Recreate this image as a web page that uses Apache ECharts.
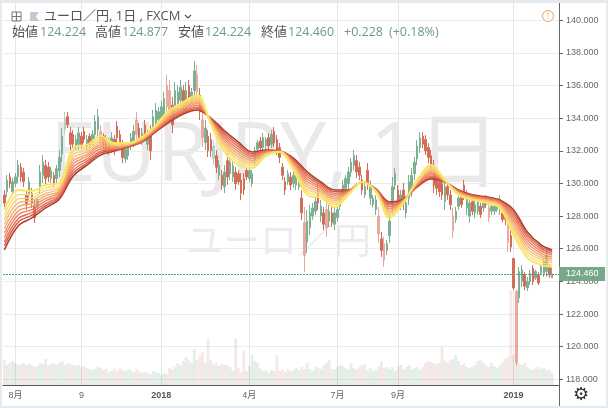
<!DOCTYPE html>
<html><head><meta charset="utf-8">
<style>html,body{margin:0;padding:0;background:#fff}#c{width:608px;height:408px}</style>
<script src="https://cdn.jsdelivr.net/npm/echarts@6/dist/echarts.min.js"></script>
</head><body><div id="c"></div>
<script>
const tickLabels = {4:'8月',28:'9',57:'2018',89:'4月',121:'7月',143:'9月',185:'2019'};
const barSlots = 202;
const yTicks = [118,120,122,124,126,128,130,132,134,136,138,140];
const lastPrice = 124.46;

const opens = [
129.3,129.5,130.4,129.5,130.0,130.4,131.0,130.7,129.3,129.3,
129.4,128.6,128.6,129.8,130.5,131.1,131.0,130.3,130.5,130.3,
130.8,131.8,133.3,134.1,133.1,133.0,132.3,132.4,132.9,133.2,
132.3,132.9,132.6,133.0,133.3,133.2,132.9,132.7,132.0,132.2,
132.7,133.5,133.0,132.3,131.5,131.7,132.3,132.6,133.9,133.4,
132.6,133.6,132.4,133.0,133.4,133.7,133.9,134.0,134.3,136.0,
135.7,134.8,134.6,134.8,135.1,135.7,134.8,136.0,135.1,135.7,
136.7,135.4,133.9,132.5,132.9,132.7,131.5,131.7,130.5,130.5,
129.8,131.4,130.6,130.4,130.7,130.6,130.2,130.3,130.8,130.3,
130.0,131.4,132.1,132.6,132.2,132.3,132.8,132.4,133.2,132.7,
132.2,131.0,130.1,130.1,130.4,130.0,129.9,129.8,129.1,127.6,
126.4,127.3,128.0,128.3,129.6,128.0,128.2,128.4,127.7,128.2,
127.5,127.9,128.6,129.4,129.7,130.0,130.7,131.1,131.4,131.0,
130.2,129.3,130.8,129.1,128.7,128.4,128.0,126.6,126.3,125.9,
126.8,128.7,129.9,129.6,128.7,129.6,128.2,129.1,129.6,130.6,
131.5,132.2,132.9,132.7,132.2,131.7,130.9,130.4,130.1,130.0,
128.9,129.8,129.3,128.0,127.8,128.6,129.2,129.9,128.5,128.0,
128.9,128.2,128.3,128.6,128.5,129.1,128.5,128.3,128.3,128.4,
128.4,128.2,128.4,127.6,126.8,125.4,123.4,123.0,124.0,124.4,
123.6,124.0,124.8,124.2,124.4,124.5,124.5,124.6,124.9,124.224];
const closes = [
128.8,130.2,130.0,130.1,130.4,131.1,130.4,130.1,128.7,130.1,
128.8,127.9,129.0,130.7,131.3,130.3,130.4,130.8,130.0,130.9,
131.6,132.9,134.0,133.6,132.4,132.4,132.7,133.1,132.4,132.7,
132.7,132.4,133.0,133.8,134.1,132.5,132.4,132.2,132.5,132.8,
132.0,132.8,132.4,131.6,132.1,132.2,132.8,133.2,133.0,132.8,
133.1,133.0,133.0,132.0,134.1,134.5,134.4,134.7,135.2,134.7,
134.4,133.6,135.7,135.6,135.9,134.9,135.7,135.3,135.6,136.9,
135.6,134.4,132.8,133.4,132.0,132.0,132.3,131.0,131.1,129.9,
130.7,130.4,131.3,131.1,130.0,130.1,129.4,129.6,130.4,130.8,
130.6,132.0,132.5,132.2,132.8,132.7,132.3,133.0,132.5,132.0,
131.6,130.5,129.6,130.6,129.9,130.5,130.4,130.3,128.2,125.6,
127.7,128.2,128.5,128.9,128.8,128.6,127.5,127.3,128.3,127.6,
128.2,128.4,129.1,129.9,130.3,130.7,131.3,131.7,130.7,130.5,
129.6,129.8,130.0,129.8,129.1,129.0,126.9,125.9,125.3,126.3,
127.7,129.8,130.6,128.9,129.3,128.8,128.8,130.1,130.5,131.3,
132.3,132.8,132.4,132.0,131.6,131.0,129.9,129.7,129.5,129.3,
129.8,129.3,128.7,127.1,128.3,129.1,128.7,129.3,129.2,128.8,
128.3,128.7,128.9,128.1,128.9,128.7,127.9,128.6,128.6,128.8,
129.0,127.8,127.8,126.4,126.1,123.6,119.0,124.6,124.7,123.7,
124.0,124.5,124.0,124.6,123.9,124.9,125.2,125.6,124.4,124.46];
const lows = [
128.56,129.17,129.72,129.29,129.78,130.03,130.09,129.78,128.37,128.99,
128.50,127.58,128.37,129.41,130.03,129.91,130.09,130.03,129.78,130.03,
130.40,131.31,132.97,133.40,132.05,132.05,132.05,132.05,132.17,132.48,
132.05,132.23,132.36,132.66,132.85,132.17,132.17,131.93,131.74,131.87,
131.74,132.48,132.05,131.25,131.25,131.44,132.05,132.23,132.48,132.48,
132.36,132.66,132.05,131.44,132.97,133.27,133.58,133.58,133.89,134.01,
133.70,133.09,134.07,134.38,134.68,134.50,134.32,134.93,134.87,135.11,
135.11,133.89,132.23,132.05,131.62,131.62,131.13,130.64,130.21,129.60,
129.41,129.91,130.21,130.09,129.60,129.91,128.99,129.29,130.21,130.09,
129.78,131.13,131.87,131.93,131.87,132.05,132.05,132.17,132.23,131.74,
131.25,130.21,129.29,129.91,129.60,129.72,129.60,129.60,127.76,124.57,
125.74,126.84,127.76,128.07,128.37,127.64,127.15,126.72,127.33,127.33,
127.15,127.64,128.37,129.11,129.48,129.60,130.40,130.82,130.33,130.21,
129.29,129.11,129.60,128.68,128.56,128.07,126.35,125.49,124.88,125.62,
126.35,128.07,129.60,128.56,128.37,128.37,127.88,128.68,129.17,130.21,
131.13,131.87,132.17,131.74,131.25,130.64,129.41,129.29,129.17,128.99,
128.37,128.99,128.37,126.66,127.58,128.37,128.50,128.99,128.07,127.58,
128.07,127.88,128.07,127.88,128.25,128.50,127.64,128.07,128.07,128.25,
128.07,127.64,127.45,125.80,125.80,123.47,118.82,122.68,123.66,123.47,
123.41,123.78,123.78,124.08,123.78,124.39,124.27,124.27,124.21,124.224];
const highs = [
129.60,130.52,130.64,130.33,130.64,131.44,131.25,130.95,129.60,130.40,
129.72,128.99,129.17,131.13,131.74,131.44,131.31,131.01,130.70,131.13,
132.05,133.40,134.38,134.38,133.46,133.27,132.97,133.46,133.15,133.46,
132.97,133.09,133.27,134.19,134.56,133.58,133.09,132.97,132.78,133.15,
132.97,133.83,133.27,132.66,132.36,132.48,133.09,133.58,134.38,133.70,
133.40,133.89,133.27,133.58,134.50,134.93,134.68,135.11,135.60,136.64,
136.34,135.30,136.22,136.03,136.34,136.03,136.22,136.34,135.85,137.50,
137.26,135.85,134.50,133.89,133.27,133.09,132.66,132.05,131.44,130.82,
131.13,131.87,131.62,131.44,131.01,130.82,130.64,130.64,131.01,131.01,
130.82,132.23,132.66,132.85,133.09,132.85,133.09,133.27,133.46,132.97,
132.48,131.25,130.40,130.82,130.70,130.82,130.70,130.52,129.60,128.56,
128.37,128.68,128.80,129.17,130.03,128.99,128.56,128.99,128.68,128.56,
128.56,128.68,129.29,130.21,130.52,131.01,131.56,132.05,131.74,131.31,
130.52,130.03,131.25,130.21,129.29,129.29,128.56,127.03,126.72,126.54,
128.19,130.40,130.95,129.91,129.60,130.03,129.17,130.52,130.95,131.62,
132.66,133.15,133.15,132.97,132.48,132.05,131.44,130.82,130.40,130.33,
130.33,130.03,129.60,128.50,128.56,129.29,129.48,130.21,129.60,129.17,
129.17,128.99,129.17,128.80,129.11,129.29,128.80,128.80,128.80,128.99,
129.29,128.37,128.68,128.19,127.15,125.43,123.47,124.88,125.00,124.57,
124.27,124.70,125.00,124.70,124.57,125.00,125.43,125.92,125.00,124.877];
const volumes = [
25,20,22,24,22,20,21,22,20,21,
20,18,19,22,21,26,20,21,22,20,
22,24,20,22,21,20,19,20,18,19,
17,16,15,16,18,17,15,16,13,14,
16,14,17,15,14,16,15,13,16,14,
12,13,12,11,14,13,12,10,12,11,
17,16,18,22,20,24,28,25,22,36,
25,30,33,22,46,25,20,22,19,21,
20,20,18,14,46,17,13,35,14,19,
30,24,22,17,14,15,12,15,14,30,
14,15,13,16,14,15,17,15,18,16,
22,16,14,18,17,16,20,22,25,16,
16,18,20,19,17,16,22,17,16,18,
20,21,15,17,14,15,19,24,17,18,
16,18,14,19,20,16,18,20,16,17,
18,15,18,22,24,23,22,21,22,38,
24,22,25,26,30,24,20,22,18,17,
18,20,24,25,22,20,18,22,19,17,
20,23,26,28,95,30,22,22,20,22,
18,16,15,17,18,16,17,15,15,12];
const paleBars = [22,35,48,59,60,70,72,76,109,117,136,138,163,176,183,186];

const ribbonAt = [0,5,10,15,20,25,30,35,40,45,50,55,60,65,70,75,80,85,90,95,100,105,110,115,120,125,130,135,140,145,150,155,160,165,170,175,180,185,190,195,199];
const ribbon1 = [128.38,129.60,129.54,129.91,130.03,132.18,132.36,132.91,132.48,132.48,132.85,133.59,134.50,134.99,135.42,133.65,131.93,131.13,130.95,131.69,131.93,130.83,129.30,129.12,128.56,129.30,130.09,129.48,127.89,128.81,130.22,131.13,130.22,129.30,128.99,128.81,128.50,126.85,125.44,125.01,124.89];
const ribbon2 = [128.06,129.31,129.33,129.73,129.90,131.96,132.20,132.76,132.42,132.45,132.81,133.53,134.41,134.90,135.30,133.70,132.10,131.31,131.08,131.74,131.94,130.92,129.48,129.25,128.70,129.34,130.09,129.50,128.02,128.84,130.16,131.02,130.20,129.34,129.03,128.86,128.56,127.05,125.65,125.17,125.03];
const ribbon3 = [127.77,129.05,129.13,129.56,129.79,131.75,132.05,132.62,132.36,132.42,132.77,133.48,134.32,134.81,135.19,133.74,132.25,131.48,131.20,131.78,131.95,131.01,129.65,129.36,128.82,129.38,130.09,129.53,128.14,128.87,130.11,130.92,130.19,129.38,129.07,128.90,128.62,127.23,125.84,125.32,125.15];
const ribbon4 = [127.50,128.81,128.95,129.40,129.68,131.56,131.92,132.49,132.30,132.39,132.74,133.44,134.24,134.73,135.09,133.78,132.39,131.64,131.30,131.82,131.95,131.09,129.81,129.47,128.93,129.41,130.09,129.54,128.24,128.90,130.07,130.82,130.17,129.41,129.10,128.94,128.68,127.40,126.01,125.45,125.26];
const ribbon5 = [127.23,128.57,128.76,129.25,129.57,131.37,131.78,132.36,132.25,132.37,132.70,133.39,134.16,134.65,134.99,133.82,132.54,131.79,131.41,131.86,131.96,131.17,129.96,129.58,129.05,129.44,130.09,129.56,128.35,128.92,130.02,130.73,130.16,129.44,129.14,128.98,128.73,127.57,126.19,125.58,125.38];
const ribbon6 = [126.96,128.32,128.58,129.09,129.46,131.18,131.65,132.24,132.20,132.34,132.67,133.34,134.08,134.57,134.89,133.86,132.68,131.95,131.52,131.90,131.96,131.25,130.12,129.68,129.16,129.47,130.09,129.58,128.46,128.95,129.97,130.64,130.14,129.47,129.17,129.02,128.78,127.74,126.36,125.72,125.49];
const ribbon7 = [126.69,128.08,128.40,128.94,129.35,130.99,131.51,132.11,132.14,132.31,132.64,133.29,134.00,134.49,134.79,133.90,132.82,132.10,131.63,131.94,131.97,131.33,130.27,129.79,129.28,129.51,130.09,129.60,128.57,128.98,129.92,130.54,130.13,129.51,129.20,129.07,128.84,127.91,126.54,125.85,125.61];
const ribbon8 = [126.42,127.84,128.22,128.78,129.25,130.80,131.38,131.98,132.09,132.29,132.60,133.25,133.92,134.41,134.68,133.94,132.96,132.26,131.73,131.98,131.98,131.41,130.43,129.90,129.39,129.54,130.09,129.62,128.67,129.00,129.88,130.45,130.12,129.54,129.24,129.11,128.89,128.07,126.71,125.99,125.72];
const ribbon9 = [126.18,127.62,128.06,128.64,129.15,130.63,131.25,131.87,132.04,132.26,132.57,133.20,133.84,134.33,134.59,133.97,133.09,132.40,131.83,132.01,131.98,131.49,130.57,130.00,129.50,129.57,130.09,129.64,128.77,129.03,129.83,130.36,130.10,129.57,129.27,129.14,128.94,128.23,126.87,126.11,125.83];
const ribbon10 = [125.93,127.40,127.89,128.50,129.05,130.46,131.13,131.75,131.99,132.24,132.54,133.16,133.77,134.26,134.50,134.01,133.22,132.54,131.93,132.05,131.99,131.56,130.71,130.09,129.60,129.60,130.09,129.66,128.87,129.05,129.79,130.28,130.09,129.60,129.30,129.18,128.99,128.38,127.03,126.23,125.93];
const ribbons = [ribbon10,ribbon9,ribbon8,ribbon7,ribbon6,ribbon5,ribbon4,ribbon3,ribbon2,ribbon1];
const ribbonColors = ['#ae3f2c','#d65441','#e26a52','#ea7d5c','#ef9165','#f4a66c','#f7b972','#f9cd78','#fbdc72','#f8e75e'];

const UP='#7cb093', DOWN='#d46c58', UP_PALE='#b4d2c1', DOWN_PALE='#e9a99d';
const FONT="'Open Sans','Noto Sans CJK JP',sans-serif";
const TEXT='#555', GREEN='#6b9f80';

const categories = Array.from({length:barSlots},(_,i)=>tickLabels[i]||String(i));
const isTick = i => tickLabels[i]!==undefined;
const candleData = opens.map((o,i)=>{
  const up = closes[i]>=o, pale = paleBars.includes(i);
  const col = up ? (pale?UP_PALE:UP) : (pale?DOWN_PALE:DOWN);
  return {value:[o,closes[i],lows[i],highs[i]],itemStyle:{color:col,color0:col,borderColor:col,borderColor0:col}};
});
const volumeData = volumes.map((v,i)=>({value:v,itemStyle:{color:closes[i]>=opens[i]?'rgba(111,168,136,0.19)':'rgba(190,110,96,0.15)'}}));

const txt=(x,y,s,fill,size,extra)=>({type:'text',z:20,style:Object.assign({x,y,text:s,fill,font:`${size}px ${FONT}`,textVerticalAlign:'middle'},extra||{})});

const chart=echarts.init(document.getElementById('c'),null,{renderer:'canvas'});
chart.setOption({
 animation:false,backgroundColor:'#fff',
 textStyle:{fontFamily:FONT},
 grid:{left:3,right:49,top:3,bottom:23,containLabel:false},
 xAxis:{type:'category',data:categories,boundaryGap:true,
   axisLine:{lineStyle:{color:'#555',width:1}},
   axisTick:{alignWithLabel:true,interval:i=>isTick(i),length:3,lineStyle:{color:'#555'}},
   splitLine:{show:true,alignWithLabel:true,interval:i=>isTick(i),lineStyle:{color:'#e6e6e6',width:1}},
   axisLabel:{interval:i=>isTick(i),margin:6,fontSize:9,color:'#666',fontFamily:"'Liberation Sans','Noto Sans CJK JP',sans-serif",
     formatter:v=>/^20/.test(v)?`{b|${v}}`:v,rich:{b:{fontWeight:'bold',fontSize:9,color:'#555',fontFamily:"'Liberation Sans',sans-serif"}}}},
 yAxis:[{type:'value',position:'right',min:117.65,max:141.06,scale:true,
   axisLine:{show:true,lineStyle:{color:'#666',width:1}},
   axisTick:{show:true,length:4,customValues:yTicks,lineStyle:{color:'#666'}},
   splitLine:{show:true,customValues:yTicks,lineStyle:{color:'#ececec',width:1}},
   axisLabel:{customValues:yTicks,margin:7,fontSize:9,color:'#666',fontFamily:"'Liberation Sans',sans-serif",
     formatter:v=>v.toFixed(3)}},
  {type:'value',position:'right',min:0,max:382,show:false,splitLine:{show:false}}],
 graphic:{elements:[
   {type:'text',z:-1,style:{x:50,y:157,text:'EURJPY, 1日',fill:'#e9e9e9',font:`83px 'Open Sans','Noto Sans CJK JP',sans-serif`,textVerticalAlign:'middle'}},
   {type:'text',z:-1,style:{x:186,y:240,text:'ユーロ／円',fill:'#ececec',font:`37px 'Noto Sans CJK JP',sans-serif`,textVerticalAlign:'middle'}},
   {type:'rect',z:30,shape:{x:0,y:0,width:608,height:3},style:{fill:'#e6eaee'}},
   {type:'rect',z:30,shape:{x:0,y:0,width:2,height:408},style:{fill:'#e6eaee'}},
   {type:'rect',z:30,shape:{x:0,y:406,width:608,height:2},style:{fill:'#e6eaee'}},
   {type:'rect',z:30,shape:{x:606,y:0,width:2,height:408},style:{fill:'#e6eaee'}},
   {type:'line',z:30,shape:{x1:559.5,y1:385,x2:559.5,y2:406},style:{stroke:'#666',lineWidth:1}},
   {type:'rect',z:20,shape:{x:12,y:12,width:9,height:9},style:{fill:'none',stroke:'#777',lineWidth:1}},
   {type:'line',z:20,shape:{x1:12,y1:16.5,x2:21,y2:16.5},style:{stroke:'#777',lineWidth:1}},
   {type:'line',z:20,shape:{x1:16.5,y1:12,x2:16.5,y2:21},style:{stroke:'#777',lineWidth:1}},
   {type:'polygon',z:20,shape:{points:[[30,12],[39,12],[36,16.5],[39,21],[30,21]]},style:{fill:'#c4c9d3'}},
   txt(44,16.5,'ユーロ／円, 1日 , FXCM',TEXT,13),
   {type:'polyline',z:20,shape:{points:[[185,15],[188,18],[191,15]]},style:{fill:'none',stroke:'#555',lineWidth:1.2}},
   txt(12,32,'始値',TEXT,13), txt(40,32,'124.224',GREEN,12.5),
   txt(95,32,'高値',TEXT,13), txt(122,32,'124.877',GREEN,12.5),
   txt(178,32,'安値',TEXT,13), txt(205,32,'124.224',GREEN,12.5),
   txt(261,32,'終値',TEXT,13), txt(288,32,'124.460',GREEN,12.5),
   txt(344,32,'+0.228',GREEN,12.5), txt(389,32,'(+0.18%)',GREEN,12.5),
   {type:'circle',z:20,shape:{cx:548,cy:16,r:5.5},style:{fill:'#fff',stroke:'#f0a060',lineWidth:1}},
   txt(548,16,'!','#f0a060',9,{textAlign:'center'}),
   txt(581,395.5,'⚙','#333',18,{textAlign:'center',font:"18px 'DejaVu Sans',sans-serif"})
 ]},
 series:[
  {type:'bar',name:'volume',yAxisIndex:1,data:volumeData,barWidth:2.76,z:1,silent:true},
  {type:'candlestick',name:'EURJPY',data:candleData,barWidth:2,z:3,silent:true,
   markLine:{silent:true,symbol:'none',z:6,precision:3,
    lineStyle:{color:'#5f9a78',type:[2,1],width:1},
    label:{show:true,position:'end',distance:0,formatter:p=>p.value.toFixed(3),color:'#fff',fontSize:9,fontFamily:"'Liberation Sans',sans-serif",backgroundColor:'#78a88a',padding:[3,9,2,7],width:30},
    data:[{yAxis:lastPrice}]}},
  ...ribbons.map((r,k)=>({type:'line',name:'ema'+k,data:r.map((v,j)=>[ribbonAt[j],v]),smooth:0.35,showSymbol:false,silent:true,z:4+k*0.01,
    lineStyle:{color:ribbonColors[k],width:k===9?1.9:k===0?1.6:1.35}}))
 ]
});
</script></body></html>
